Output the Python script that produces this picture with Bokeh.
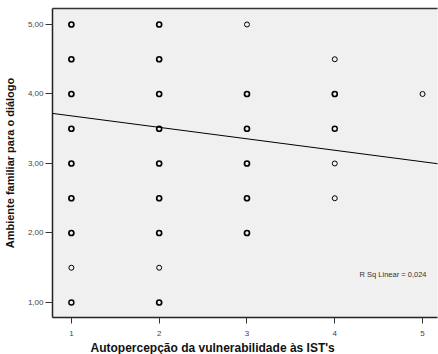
from bokeh.plotting import figure
from bokeh.models import FixedTicker, Label, Slope, LinearAxis, Range1d, ColumnDataSource, Title
from bokeh.embed import file_html
from bokeh.resources import INLINE

# Observed (x, y) combinations and how many respondents share each one
vulnerabilidade = [1, 1, 1, 1, 1, 1, 1, 1, 1,
                   2, 2, 2, 2, 2, 2, 2, 2, 2,
                   3, 3, 3, 3, 3, 3,
                   4, 4, 4, 4, 4,
                   5]
ambiente = [1.0, 1.5, 2.0, 2.5, 3.0, 3.5, 4.0, 4.5, 5.0,
            1.0, 1.5, 2.0, 2.5, 3.0, 3.5, 4.0, 4.5, 5.0,
            2.0, 2.5, 3.0, 3.5, 4.0, 5.0,
            2.5, 3.0, 3.5, 4.0, 4.5,
            4.0]
frequencia = [2, 1, 4, 4, 6, 5, 8, 4, 7,
              3, 1, 4, 5, 6, 6, 9, 5, 6,
              3, 3, 4, 4, 5, 1,
              1, 1, 2, 3, 1,
              1]

# Linear fit line
intercepto = 3.85
declive = -0.165
r_quadrado = "0,024"

x_ticks = [1, 2, 3, 4, 5]
y_ticks = [1, 2, 3, 4, 5]
y_tick_labels = {1: "1,00", 2: "2,00", 3: "3,00", 4: "4,00", 5: "5,00"}

espessura = [1.0 if n == 1 else (1.4 if n == 2 else 1.7) for n in frequencia]
src = ColumnDataSource(dict(x=vulnerabilidade, y=ambiente, lw=espessura))

FONT = "Liberation Sans"

p = figure(width=438, height=354, output_backend="svg", toolbar_location=None,
           x_range=Range1d(0.785, 5.17), y_range=Range1d(0.784, 5.23),
           min_border_left=50, min_border_right=1, min_border_top=8, min_border_bottom=37)
p.background_fill_color = "#f0f0f0"
p.border_fill_color = "white"
p.outline_line_color = None
p.xgrid.visible = False
p.ygrid.visible = False

p.scatter("x", "y", source=src, marker="circle", size=5, fill_color=None,
          line_color="black", line_width="lw")

p.add_layout(Slope(gradient=declive, y_intercept=intercepto,
                   line_color="black", line_width=1))

p.add_layout(Label(x=5.045, y=1.40, text=f"R Sq Linear = {r_quadrado}",
                   text_align="right", text_baseline="middle",
                   text_font=FONT, text_font_size="7.5px", text_color="#333333"))

for ax in (p.xaxis[0], p.yaxis[0]):
    ax.axis_line_color = "#222222"
    ax.axis_line_width = 1.5
    ax.major_tick_line_color = "#333333"
    ax.minor_tick_line_color = None
    ax.major_tick_in = 0
    ax.major_label_text_font = FONT
    ax.major_label_text_font_size = "8px"
    ax.major_label_text_color = "#444444"
    ax.axis_label_text_font = FONT
    ax.axis_label_text_font_style = "bold"
    ax.axis_label_text_color = "#111111"

p.xaxis.ticker = FixedTicker(ticks=x_ticks)
p.xaxis.major_tick_out = 6
p.xaxis.major_label_standoff = 7

# x-axis title, set a little left of the frame centre
p.add_layout(Title(text="Autopercepção da vulnerabilidade às IST's", align="left",
                   offset=38, standoff=0, text_font=FONT, text_font_size="12px",
                   text_font_style="bold", text_color="#111111"), "below")

p.yaxis.ticker = FixedTicker(ticks=y_ticks)
p.yaxis.major_label_overrides = y_tick_labels
p.yaxis.major_tick_out = 7
p.yaxis.major_label_standoff = 2
p.yaxis.axis_label = "Ambiente familiar para o diálogo"
p.yaxis.axis_label_text_font_size = "11px"
p.yaxis.axis_label_standoff = 9

# plain border along the top of the plotting area
top = LinearAxis(ticker=FixedTicker(ticks=[]), axis_line_color="#333333",
                 axis_line_width=1.5, major_label_text_font_size="0px",
                 major_tick_out=0, major_tick_in=0, minor_tick_out=0, minor_tick_in=0)
p.add_layout(top, "above")

open("out.html", "w").write(file_html(p, INLINE))
